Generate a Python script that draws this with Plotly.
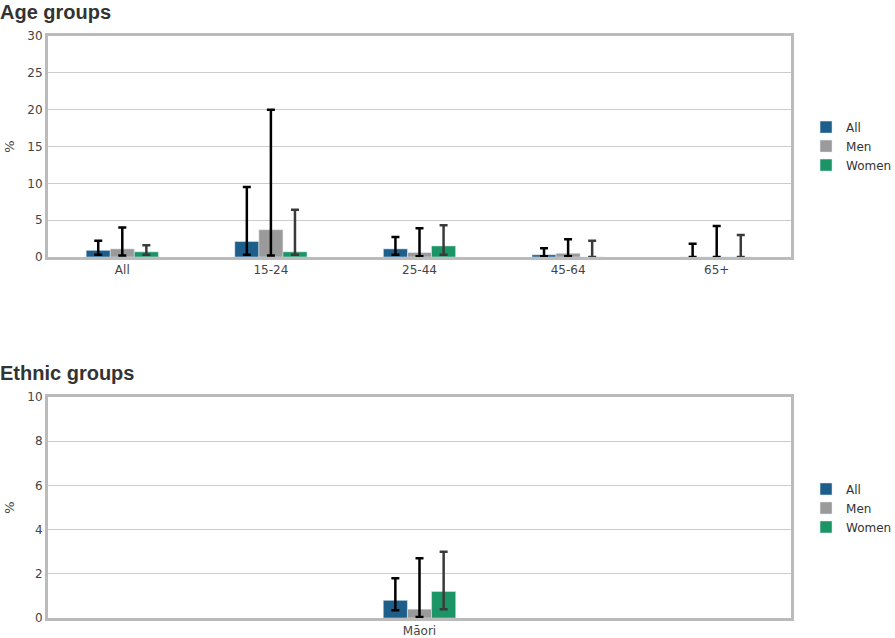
import plotly.graph_objects as go
from plotly.subplots import make_subplots

# Age groups (percent, with 95% CI bounds)
age_groups = ["All", "15-24", "25-44", "45-64", "65+"]
age_all = [0.9, 2.1, 1.1, 0.3, 0.0]
age_all_low = [0.3, 0.3, 0.3, 0.1, 0.0]
age_all_high = [2.2, 9.5, 2.7, 1.2, 1.8]
age_men = [1.1, 3.7, 0.6, 0.5, 0.0]
age_men_low = [0.2, 0.2, 0.1, 0.1, 0.0]
age_men_high = [4.0, 20.0, 3.9, 2.4, 4.2]
age_women = [0.7, 0.7, 1.5, 0.0, 0.0]
age_women_low = [0.3, 0.3, 0.3, 0.0, 0.0]
age_women_high = [1.6, 6.4, 4.3, 2.2, 3.0]

# Ethnic groups
eth_groups = ["Māori"]
eth_all = [0.8]
eth_all_low = [0.35]
eth_all_high = [1.8]
eth_men = [0.4]
eth_men_low = [0.05]
eth_men_high = [2.7]
eth_women = [1.2]
eth_women_low = [0.4]
eth_women_high = [3.0]

series_names = ["All", "Men", "Women"]
colors = ["#1d5f8a", "#9a9a9a", "#1b9466"]
err_colors = ["#000000", "#000000", "#3a3a3a"]

fig = make_subplots(rows=2, cols=1)


def add_group(fig, row, cats, vals, lows, highs, width, legend):
    for i, name in enumerate(series_names):
        v = vals[i]
        fig.add_trace(
            go.Bar(
                x=cats,
                y=v,
                name=name,
                marker_color=colors[i],
                width=width,
                offset=(i - 1.5) * width,
                error_y=dict(
                    type="data",
                    symmetric=False,
                    array=[h - y for h, y in zip(highs[i], v)],
                    arrayminus=[y - l for y, l in zip(v, lows[i])],
                    color=err_colors[i],
                    thickness=2.5,
                    width=4,
                ),
                legend=legend,
                hovertemplate="%{x}<br>" + name + ": %{y}%<extra></extra>",
            ),
            row=row, col=1,
        )


add_group(fig, 1, age_groups,
          [age_all, age_men, age_women],
          [age_all_low, age_men_low, age_women_low],
          [age_all_high, age_men_high, age_women_high],
          0.162, "legend")
add_group(fig, 2, eth_groups,
          [eth_all, eth_men, eth_women],
          [eth_all_low, eth_men_low, eth_women_low],
          [eth_all_high, eth_men_high, eth_women_high],
          0.0325, "legend2")

axis_style = dict(
    showline=True, mirror=True, linewidth=3, linecolor="#bbbbbb",
    ticks="", tickfont=dict(size=12, color="#444444"), automargin=False,
)

fig.update_xaxes(**axis_style, showgrid=False)
fig.update_yaxes(**axis_style, showgrid=True, gridcolor="#cccccc", gridwidth=1,
                 zeroline=False, title_text="%",
                 title_font=dict(size=13, color="#444444"), title_standoff=10)

fig.update_layout(
    width=895, height=638,
    margin=dict(l=48, r=104, t=36, b=20, autoexpand=False),
    paper_bgcolor="white", plot_bgcolor="white",
    font=dict(family="DejaVu Sans, Verdana, sans-serif", size=12, color="#444444"),
    barmode="overlay",
    xaxis=dict(domain=[0, 1]),
    yaxis=dict(domain=[0.6203, 1], range=[0, 30], dtick=5),
    xaxis2=dict(domain=[0, 1]),
    yaxis2=dict(domain=[0, 0.3797], range=[0, 10], dtick=2),
    legend=dict(xref="container", yref="container", x=0.9006, y=0.771,
                xanchor="left", yanchor="middle",
                font=dict(size=12, color="#333333")),
    legend2=dict(xref="container", yref="container", x=0.9006, y=0.2038,
                 xanchor="left", yanchor="middle",
                 font=dict(size=12, color="#333333")),
    annotations=[
        dict(text="<b>Age groups</b>", xref="paper", yref="paper",
             x=-0.0673, y=1.041, xanchor="left", yanchor="middle", showarrow=False,
             font=dict(family="Liberation Sans, Arial, sans-serif", size=20, color="#333333")),
        dict(text="<b>Ethnic groups</b>", xref="paper", yref="paper",
             x=-0.0673, y=0.421, xanchor="left", yanchor="middle", showarrow=False,
             font=dict(family="Liberation Sans, Arial, sans-serif", size=20, color="#333333")),
    ],
)

# drop the default page margin so the figure sits at the window's corner
fig.write_html("out.html", config={"displayModeBar": False},
               post_script="document.body.style.margin='0';")
